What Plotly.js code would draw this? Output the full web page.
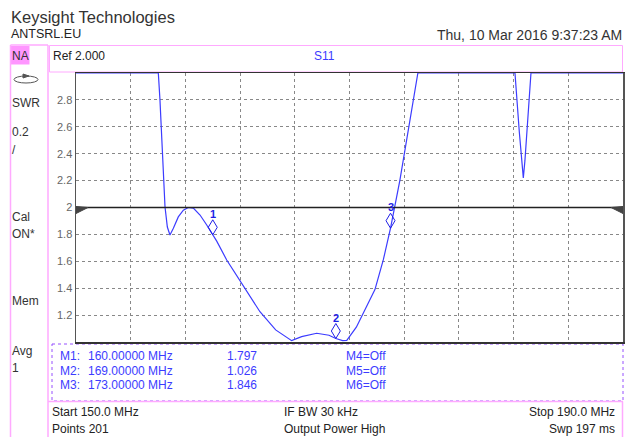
<!DOCTYPE html>
<html><head><meta charset="utf-8">
<script src="https://cdn.plot.ly/plotly-3.0.1.min.js"></script>
<style>html,body{margin:0;padding:0;background:#fff;overflow:hidden}#chart{width:625px;height:437px}</style>
</head><body><div id="chart"></div>
<script>
// ---- data (SWR trace, displayed values; off-scale parts shown clipped at 3.0) ----
const freqMHz = [150, 152, 154, 155.6, 156.02, 156.14, 156.34, 156.51, 156.68, 156.87, 157.12, 157.48, 157.85, 158.21, 158.58, 159.07, 159.56, 160, 160.29, 161.02, 162.2, 163.45, 164.6, 165.77, 166.5, 167.6, 168.5, 169, 169.5, 169.8, 170.5, 171.2, 171.86, 172.47, 173, 173.68, 174.3, 175.0, 177, 179, 181, 182.1, 182.42, 182.59, 182.71, 182.83, 182.96, 183.15, 183.27, 185, 187, 190];
const swr = [3.0, 3.0, 3.0, 3.0, 3.0, 2.80, 2.405, 2.004, 1.855, 1.796, 1.845, 1.93, 1.98, 2.0, 1.995, 1.944, 1.87, 1.797, 1.75, 1.61, 1.42, 1.225, 1.09, 1.01, 1.04, 1.065, 1.05, 1.026, 1.01, 1.012, 1.11, 1.25, 1.39, 1.61, 1.846, 2.2, 2.57, 3.0, 3.0, 3.0, 3.0, 3.0, 2.56, 2.38, 2.22, 2.35, 2.56, 2.80, 3.0, 3.0, 3.0, 3.0];
const markerIds = ['1', '2', '3'];
const markerFreq = [160, 169, 173];
const markerSwr = [1.797, 1.026, 1.846];
const offMarkers = ['M4=Off', 'M5=Off', 'M6=Off'];
const yTickVals = [1.2, 1.4, 1.6, 1.8, 2, 2.2, 2.4, 2.6, 2.8];
const yTickText = ['1.2', '1.4', '1.6', '1.8', '2', '2.2', '2.4', '2.6', '2.8'];
const xRange = [150, 190];
const yRange = [1, 3];
const refLevel = 2.0;
const sidebarLabels = ['NA', 'SWR', '0.2', '/', 'Cal', 'ON*', 'Mem', 'Avg', '1'];

// ---- layout helpers (pixel -> paper) ----
const W = 625, H = 437, PL = 76, PR = 623, PT = 73, PB = 342;
const px = x => (x - PL) / (PR - PL);
const py = y => (PB - y) / (PB - PT);
const FONT = 'Liberation Sans, Arial, sans-serif';
const BLUE = 'rgb(60,60,255)';
const PINK = 'rgb(255,170,255)';
const TXT = '#333';

const ann = [];
function txt(t, x, y, size, color, anchor, extra) {
  ann.push(Object.assign({xref: 'paper', yref: 'paper', x: px(x), y: py(y), text: t, showarrow: false,
    xanchor: anchor || 'left', yanchor: 'middle', font: {family: FONT, size: size, color: color}}, extra || {}));
}
txt('Keysight Technologies', 9, 17, 16.5, TXT);
txt('ANTSRL.EU', 9, 34, 12.5, '#222');
txt('Thu, 10 Mar 2016 9:37:23 AM', 624, 35, 14, TXT, 'right');
txt('Ref 2.000', 51, 56, 12, '#222');
txt('S11', 312, 56, 12, BLUE);
const sideY = [56, 103, 132, 150, 217, 234, 301, 351, 368];
sidebarLabels.forEach((s, i) => txt(s, 10, sideY[i], 12, TXT));
// marker table
const rowY = [356, 371, 385];
markerIds.forEach((m, i) => {
  txt('M' + m + ':', 58, rowY[i], 12, BLUE);
  txt(markerFreq[i].toFixed(5) + ' MHz', 86, rowY[i], 12, BLUE);
  txt(markerSwr[i].toFixed(3), 225, rowY[i], 12, BLUE);
  txt(offMarkers[i], 344, rowY[i], 12, BLUE);
});
txt('Start ' + xRange[0].toFixed(1) + ' MHz', 50, 412, 12, '#222');
txt('IF BW 30 kHz', 282, 412, 12, '#222');
txt('Stop ' + xRange[1].toFixed(1) + ' MHz', 617, 412, 12, '#222', 'right');
txt('Points 201', 50, 429, 12, '#222');
txt('Output Power High', 282, 429, 12, '#222');
txt('Swp 197 ms', 617, 429, 12, '#222', 'right');
// marker number labels
markerIds.forEach((m, i) => ann.push({x: markerFreq[i], y: markerSwr[i], xref: 'x', yref: 'y', yshift: 21,
  text: '<b>' + m + '</b>', showarrow: false, font: {family: FONT, size: 11, color: 'rgb(30,30,230)'}}));

const shp = [];
function pline(x0, y0, x1, y1, color, width, dash) {
  shp.push({type: 'line', xref: 'paper', yref: 'paper', x0: px(x0), y0: py(y0), x1: px(x1), y1: py(y1),
    line: {color: color, width: width || 1, dash: dash || 'solid'}, layer: 'above'});
}
function prect(x0, y0, x1, y1, lineColor, fill, dash) {
  shp.push({type: 'rect', xref: 'paper', yref: 'paper', x0: px(x0), y0: py(y0), x1: px(x1), y1: py(y1),
    line: {color: lineColor, width: lineColor ? 1 : 0, dash: dash || 'solid'}, fillcolor: fill || 'rgba(0,0,0,0)', layer: 'below'});
}
prect(11, 46, 29.5, 64.5, null, 'rgb(255,150,255)');
pline(10.5, 45, 10.5, 437, PINK, 1.5);
pline(48, 45, 48, 437, PINK, 1.5);
pline(10.5, 45, 48, 45, PINK, 1.5);
prect(49.5, 45.5, 622.5, 72, PINK);
prect(52, 344, 623, 401, 'rgb(150,80,255)', null, 'dot');
pline(48, 401.5, 623, 401.5, PINK, 1.5);
pline(622.5, 401.5, 622.5, 437, PINK, 1.5);
// icon
shp.push({type: 'circle', xref: 'paper', yref: 'paper', x0: px(14), y0: py(76), x1: px(38), y1: py(83), line: {color: '#555', width: 1}});
shp.push({type: 'path', xref: 'paper', yref: 'paper', path: `M${px(23)},${py(74)} L${px(29)},${py(76)} L${px(23)},${py(78)} Z`, fillcolor: '#555', line: {color: '#555', width: 1}});
// reference line at 2 with triangles
shp.push({type: 'line', xref: 'x', yref: 'y', x0: xRange[0], x1: xRange[1], y0: refLevel, y1: refLevel, line: {color: '#222', width: 1.5}});
shp.push({type: 'path', xref: 'x', yref: 'y', xsizemode: 'pixel', ysizemode: 'pixel', xanchor: xRange[0], yanchor: refLevel,
  path: 'M0,1 L12,0 L0,-6 Z', fillcolor: '#444', line: {color: '#444', width: 1}});
shp.push({type: 'path', xref: 'x', yref: 'y', xsizemode: 'pixel', ysizemode: 'pixel', xanchor: xRange[1], yanchor: refLevel,
  path: 'M0,1 L-12,0 L0,-6 Z', fillcolor: '#444', line: {color: '#444', width: 1}});
// marker diamonds (bottom vertex on trace point)
markerIds.forEach((m, i) => shp.push({type: 'path', xref: 'x', yref: 'y', xsizemode: 'pixel', ysizemode: 'pixel',
  xanchor: markerFreq[i], yanchor: markerSwr[i], path: 'M0,0 L4.5,7.5 L0,15 L-4.5,7.5 Z', line: {color: 'rgb(30,30,230)', width: 1}}));

const traces = [{x: freqMHz, y: swr, type: 'scatter', mode: 'lines', line: {color: BLUE, width: 1.2}, hoverinfo: 'skip'}];

const layout = {
  width: W, height: H, margin: {l: PL, r: W - PR, t: PT, b: H - PB, pad: 0},
  paper_bgcolor: '#fff', plot_bgcolor: '#fff', showlegend: false,
  xaxis: {range: xRange, dtick: 4, tick0: 150, showticklabels: false, ticks: '', zeroline: false,
    showgrid: true, gridcolor: '#888', griddash: 'dot', gridwidth: 1,
    showline: true, mirror: true, linecolor: '#333', linewidth: 1.5},
  yaxis: {range: yRange, tickmode: 'array', tickvals: yTickVals, ticktext: yTickText, ticks: '', zeroline: false,
    showgrid: true, gridcolor: '#888', griddash: 'dot', gridwidth: 1,
    showline: true, mirror: true, linecolor: '#555', linewidth: 1.5,
    tickfont: {family: FONT, size: 11, color: '#666'}},
  annotations: ann, shapes: shp
};
Plotly.newPlot('chart', traces, layout, {staticPlot: true, displayModeBar: false});
</script></body></html>
